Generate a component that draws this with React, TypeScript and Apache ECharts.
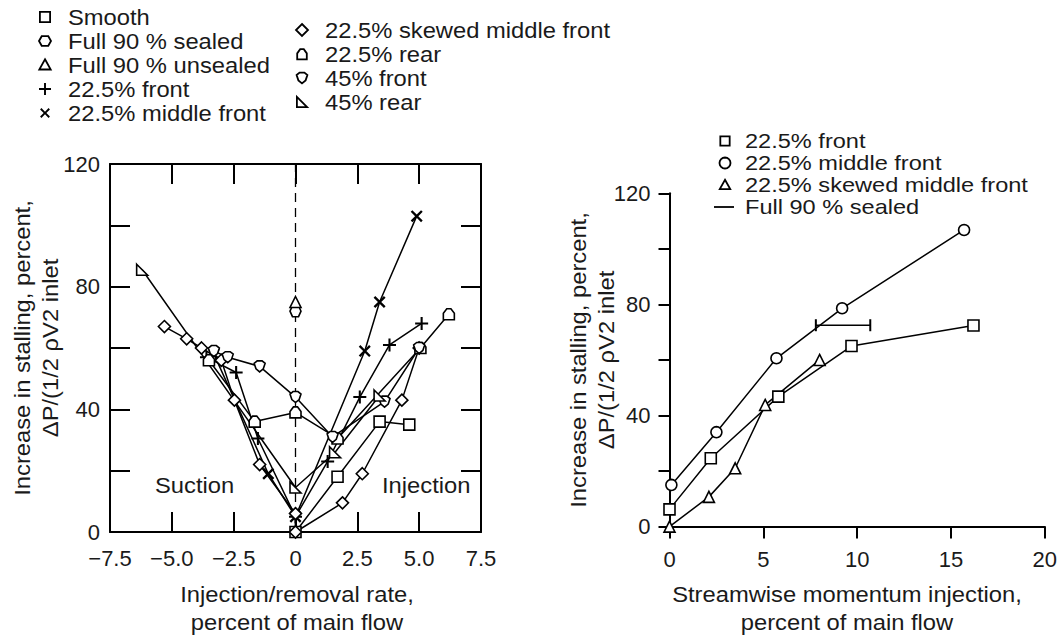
import React, { useEffect, useRef } from 'react';
import * as echarts from 'echarts';

// ---------- Left chart data (injection/removal rate, % increase) ----------
const smoothL = [[0, 0], [1.7, 18], [3.4, 36], [4.6, 35]];
const sealedL = [[0, 72]];
const unsealedL = [[0, 75]];
const front225L = [[-3.6, 57], [-2.4, 52], [-1.52, 30.5], [0, 5], [1.3, 23], [2.6, 44], [3.8, 61], [5.1, 68]];
const middleFront225L = [[-3.3, 58], [-1.1, 19], [0, 5], [2.8, 59], [3.4, 75], [4.9, 103]];
const skewed225L = [[-5.3, 67], [-4.4, 63], [-3.8, 60], [-3.0, 56], [-2.47, 43], [-1.45, 22], [0, 6], [0, 0], [1.9, 9.5], [2.7, 19], [4.3, 43], [5.0, 60]];
const rear225L = [[-3.5, 56], [-1.65, 36], [0, 39], [1.7, 30.5], [5.05, 60], [6.2, 71]];
const front45L = [[-3.3, 59], [-2.74, 57], [-1.45, 54], [0, 44], [1.5, 31], [3.6, 42.5], [5.0, 60]];
const rear45L = [[-6.2, 85.5], [0, 14.5], [1.6, 26], [3.4, 44.5]];
const zeroLine = [[0, 0], [0, 120]];

// ---------- Right chart data (streamwise momentum injection) ----------
const frontR = [[0, 6.2], [2.2, 24.6], [5.8, 46.8], [9.7, 65], [16.2, 72.4]];
const middleFrontR = [[0.1, 15], [2.5, 34], [5.7, 60.6], [9.2, 78.6], [15.7, 106.8]];
const skewedR = [[0, 0], [2.1, 10.7], [3.5, 21], [5.1, 43.8], [8.0, 60]];
const sealedR = [[7.8, 72.5], [10.7, 72.5]];

// ---------- Text ----------
const leftLegendCol1 = ['Smooth', 'Full 90 % sealed', 'Full 90 % unsealed', '22.5% front', '22.5% middle front'];
const leftLegendCol2 = ['22.5% skewed middle front', '22.5% rear', '45% front', '45% rear'];
const rightLegend = ['22.5% front', '22.5% middle front', '22.5% skewed middle front', 'Full 90 % sealed'];
const yTitle = ['Increase in stalling, percent,', '\u0394P/(1/2 \u03c1V2 inlet'];
const leftXTitle = ['Injection/removal rate,', 'percent of main flow'];
const rightXTitle = ['Streamwise momentum injection,', 'percent of main flow'];
const regionLabels = ['Suction', 'Injection'];

const FONT = 'Liberation Sans, Arial, sans-serif';
const TXT = '#1a1a1a';

// symbol shapes in unit coords
const t = 0.16;
const plusPts = [[-t, -1], [t, -1], [t, -t], [1, -t], [1, t], [t, t], [t, 1], [-t, 1], [-t, t], [-1, t], [-1, -t], [-t, -t]];
const crossPts = plusPts.map(([x, y]) => [(x - y) / Math.SQRT2, (x + y) / Math.SQRT2]);
const SHAPES: Record<string, number[][]> = {
  square: [[-0.85, -0.85], [0.85, -0.85], [0.85, 0.85], [-0.85, 0.85]],
  hex: [[-1, 0], [-0.55, -0.8], [0.55, -0.8], [1, 0], [0.55, 0.8], [-0.55, 0.8]],
  tri: [[0, -0.95], [0.95, 0.75], [-0.95, 0.75]],
  plus: plusPts,
  cross: crossPts,
  diamond: [[0, -1], [1, 0], [0, 1], [-1, 0]],
  house: [[-0.8, 0.9], [-0.8, -0.1], [-0.3, -0.8], [0.3, -0.8], [0.8, -0.1], [0.8, 0.9]],
  shield: [[-0.9, -0.5], [-0.4, -0.9], [0.4, -0.9], [0.9, -0.5], [0.6, 0.4], [0, 0.9], [-0.6, 0.4]],
  rtri: [[-0.85, -0.85], [0.85, 0.85], [-0.85, 0.85]],
  circle: Array.from({ length: 16 }, (_, i) => [Math.cos((i / 16) * Math.PI * 2), Math.sin((i / 16) * Math.PI * 2)]),
};
const FILLED = new Set(['plus', 'cross']);

function symPath(name: string) {
  const p = SHAPES[name];
  return 'path://M' + p.map(([x, y]) => `${x * 10} ${y * 10}`).join(' L') + ' Z';
}

function ser(name: string, data: number[][], shape: string, xi: number, yi: number, size = 11) {
  const filled = FILLED.has(shape);
  return {
    type: 'line',
    name,
    data,
    xAxisIndex: xi,
    yAxisIndex: yi,
    symbol: symPath(shape),
    symbolSize: size,
    showAllSymbol: true,
    lineStyle: { color: '#000', width: 1.5 },
    itemStyle: filled
      ? { color: '#000', borderWidth: 0 }
      : { color: '#fff', borderColor: '#000', borderWidth: 1.6 },
    z: 3,
    clip: false,
    silent: true,
  };
}

function legendSym(shape: string, cx: number, cy: number, s = 6) {
  const filled = FILLED.has(shape);
  return {
    type: 'polygon',
    shape: { points: SHAPES[shape].map(([x, y]) => [cx + x * s, cy + y * s]) },
    style: filled ? { fill: '#000', stroke: 'none' } : { fill: '#fff', stroke: '#000', lineWidth: 1.8 },
    z: 10,
  };
}

function txt(text: string, x: number, y: number, opts: any = {}) {
  return {
    type: 'text',
    x,
    y,
    rotation: opts.rotation || 0,
    scaleX: opts.scaleX || 1.08,
    style: {
      text,
      fill: TXT,
      font: `${opts.size || 22}px ${FONT}`,
      textAlign: opts.align || 'left',
      textVerticalAlign: 'middle',
    },
    z: 10,
  };
}

const fmtLeftX = (v: number) => (Math.abs(v) < 1e-9 ? '0' : (v < 0 ? '\u2212' : '') + Math.abs(v).toFixed(1));
const fmtY = (v: number) => (v % 40 === 0 ? String(v) : '');

const axisLineStyle = { color: '#000', width: 2 };

function buildOption() {
  const leftShapes1 = ['square', 'hex', 'tri', 'plus', 'cross'];
  const leftShapes2 = ['diamond', 'house', 'shield', 'rtri'];
  const rightShapes = ['square', 'circle', 'tri'];
  const graphic: any[] = [];
  leftLegendCol1.forEach((s, i) => {
    const y = 17 + i * 24;
    graphic.push(legendSym(leftShapes1[i], 45, y));
    graphic.push(txt(s, 68, y));
  });
  leftLegendCol2.forEach((s, i) => {
    const y = 30 + i * 24;
    graphic.push(legendSym(leftShapes2[i], 302, y));
    graphic.push(txt(s, 325, y));
  });
  rightLegend.forEach((s, i) => {
    const y = 141 + i * 22;
    if (i < 3) graphic.push(legendSym(rightShapes[i], 725, y, 5.5));
    else graphic.push({ type: 'line', shape: { x1: 714, y1: y, x2: 734, y2: y }, style: { stroke: '#000', lineWidth: 1.8 }, z: 10 });
    graphic.push(txt(s, 745, y, { size: 20.5, scaleX: 1.15 }));
  });
  // y titles
  graphic.push(txt(yTitle[0], 22, 348, { rotation: Math.PI / 2, align: 'center' }));
  graphic.push(txt(yTitle[1], 50, 348, { rotation: Math.PI / 2, align: 'center' }));
  graphic.push(txt(yTitle[0], 578, 360, { rotation: Math.PI / 2, align: 'center' }));
  graphic.push(txt(yTitle[1], 606, 360, { rotation: Math.PI / 2, align: 'center' }));
  // x titles
  graphic.push(txt(leftXTitle[0], 297, 594, { align: 'center' }));
  graphic.push(txt(leftXTitle[1], 297, 622, { align: 'center' }));
  graphic.push(txt(rightXTitle[0], 847, 594, { align: 'center' }));
  graphic.push(txt(rightXTitle[1], 847, 622, { align: 'center' }));
  // region labels
  graphic.push(txt(regionLabels[0], 155, 485));
  graphic.push(txt(regionLabels[1], 382, 485));

  const leftXBase = {
    gridIndex: 0, type: 'value', min: -7.5, max: 7.5, interval: 2.5,
    axisLine: { show: true, onZero: false, lineStyle: axisLineStyle },
    axisTick: { show: true, inside: true, length: 20, lineStyle: axisLineStyle },
    splitLine: { show: false },
  };
  const leftYBase = {
    gridIndex: 0, type: 'value', min: 0, max: 120, interval: 20,
    axisLine: { show: true, onZero: false, lineStyle: axisLineStyle },
    axisTick: { show: true, inside: true, length: 20, lineStyle: axisLineStyle },
    splitLine: { show: false },
  };

  return {
    animation: false,
    backgroundColor: '#fff',
    textStyle: { fontFamily: FONT },
    grid: [
      { left: 110, top: 164, width: 371, height: 368 },
      { left: 669.5, top: 193.3, width: 375.5, height: 333.3 },
    ],
    xAxis: [
      { ...leftXBase, position: 'bottom', axisLabel: { formatter: fmtLeftX, fontSize: 22, color: TXT, fontFamily: FONT, margin: 15, showMinLabel: true, showMaxLabel: true } },
      { ...leftXBase, position: 'top', axisLabel: { show: false } },
      {
        gridIndex: 1, type: 'value', min: 0, max: 20, interval: 5, position: 'bottom',
        axisLine: { show: true, onZero: false, lineStyle: axisLineStyle },
        axisTick: { show: true, inside: false, length: 12, lineStyle: axisLineStyle },
        axisLabel: { fontSize: 22, color: TXT, fontFamily: FONT, margin: 22, showMinLabel: true, showMaxLabel: true },
        splitLine: { show: false },
      },
    ],
    yAxis: [
      { ...leftYBase, position: 'left', axisLabel: { formatter: fmtY, fontSize: 22, color: TXT, fontFamily: FONT, margin: 10, showMaxLabel: true } },
      { ...leftYBase, position: 'right', axisLabel: { show: false } },
      {
        gridIndex: 1, type: 'value', min: 0, max: 120, interval: 20, position: 'left',
        axisLine: { show: true, onZero: false, lineStyle: axisLineStyle },
        axisTick: { show: true, inside: false, length: 11, lineStyle: axisLineStyle },
        axisLabel: { formatter: fmtY, fontSize: 22, color: TXT, fontFamily: FONT, margin: 19, showMaxLabel: true },
        splitLine: { show: false },
      },
    ],
    graphic,
    series: [
      {
        type: 'line', data: zeroLine, xAxisIndex: 0, yAxisIndex: 0, symbol: 'none', silent: true,
        lineStyle: { color: '#000', width: 1.3, type: [9, 6] }, z: 1,
      },
      ser('Smooth', smoothL, 'square', 0, 0),
      ser('Full 90 % sealed', sealedL, 'hex', 0, 0),
      ser('Full 90 % unsealed', unsealedL, 'tri', 0, 0),
      ser('22.5% front', front225L, 'plus', 0, 0, 13),
      ser('22.5% middle front', middleFront225L, 'cross', 0, 0, 12),
      ser('22.5% skewed middle front', skewed225L, 'diamond', 0, 0, 12),
      ser('22.5% rear', rear225L, 'house', 0, 0),
      ser('45% front', front45L, 'shield', 0, 0),
      ser('45% rear', rear45L, 'rtri', 0, 0),
      ser('22.5% front', frontR, 'square', 2, 2),
      ser('22.5% middle front', middleFrontR, 'circle', 2, 2),
      ser('22.5% skewed middle front', skewedR, 'tri', 2, 2),
      {
        type: 'line', name: 'Full 90 % sealed', data: sealedR, xAxisIndex: 2, yAxisIndex: 2,
        symbol: 'path://M0 0 L1 0 L1 10 L0 10 Z', symbolSize: [2, 12],
        itemStyle: { color: '#000' }, lineStyle: { color: '#000', width: 1.6 }, silent: true, z: 3,
      },
    ],
  };
}

export default function App() {
  const ref = useRef<HTMLDivElement>(null);
  useEffect(() => {
    if (!ref.current) return;
    const chart = echarts.init(ref.current, null, { renderer: 'svg' });
    chart.setOption(buildOption() as any);
    return () => chart.dispose();
  }, []);
  return <div ref={ref} style={{ position: 'absolute', left: 0, top: 0, width: 1060, height: 637 }} />;
}
